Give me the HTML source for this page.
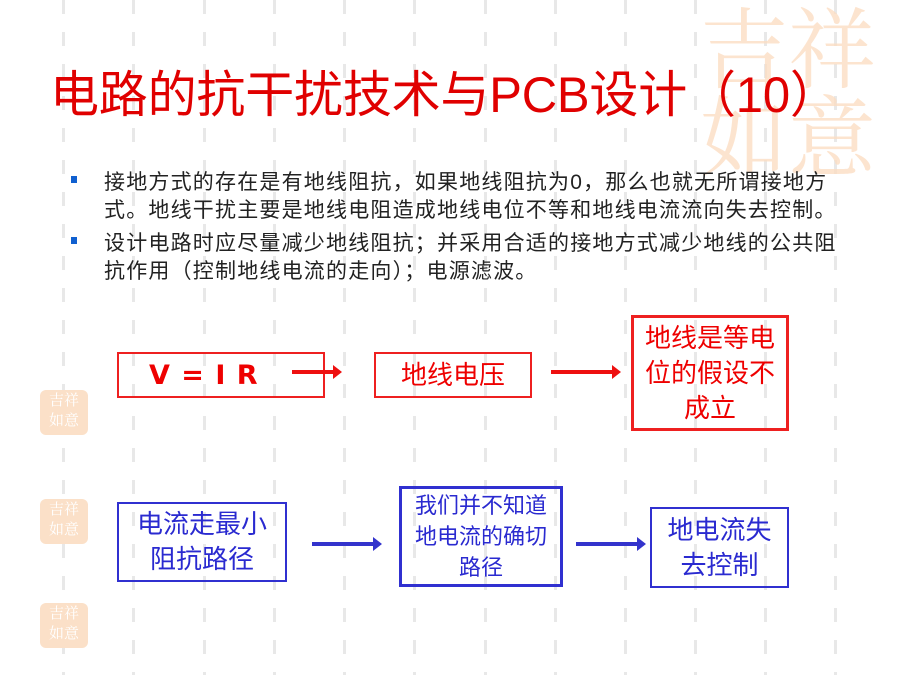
<!DOCTYPE html>
<html><head><meta charset="utf-8"><style>
body{margin:0;width:900px;height:675px;overflow:hidden;background:#fff;position:relative;font-family:"Liberation Sans","Noto Sans CJK SC",sans-serif;}
.vl{position:absolute;top:0;width:3px;height:675px;background:repeating-linear-gradient(to bottom,#e8e8e8 0 14px,transparent 14px 32px);}
.seal{position:absolute;left:40px;width:48px;height:45px;background:#fbe0c8;border-radius:6px;color:#fff;font-size:15px;line-height:20px;text-align:center;font-family:"Noto Serif CJK SC",serif;}
.title{position:absolute;left:50px;top:55px;font-size:50px;color:#e00000;white-space:nowrap;letter-spacing:-0.2px;transform:scaleX(0.98);transform-origin:left;}
.txt{position:absolute;left:104px;font-size:21px;letter-spacing:1.2px;color:#222;white-space:nowrap;}
.bul{position:absolute;left:71px;width:6px;height:7px;background:#1060d0;}
.box{position:absolute;box-sizing:border-box;display:flex;align-items:center;justify-content:center;text-align:center;font-size:26px;line-height:35px;}
.r{border:2px solid #ee2020;color:#ee0000;}
.b{border:2px solid #3030d0;color:#2a2ad0;}
.arr{position:absolute;height:4px;}
.arr:after{content:"";position:absolute;right:-8px;top:-5px;border-left:9px solid;border-left-color:inherit;border-top:7px solid transparent;border-bottom:7px solid transparent;}
</style></head><body>
<div class="vl" style="left:62px"></div><div class="vl" style="left:132px"></div><div class="vl" style="left:203px"></div><div class="vl" style="left:273px"></div><div class="vl" style="left:343px"></div><div class="vl" style="left:413px"></div><div class="vl" style="left:484px"></div><div class="vl" style="left:554px"></div><div class="vl" style="left:624px"></div><div class="vl" style="left:694px"></div><div class="vl" style="left:764px"></div><div class="vl" style="left:834px"></div>
<div style="position:absolute;left:700px;top:0;width:200px;height:175px;color:#fcdcc0;font-family:'Noto Serif CJK SC',serif;font-size:88px;line-height:88px;opacity:.75">吉祥<br>如意</div>
<div class="seal" style="top:390px">吉祥<br>如意</div>
<div class="seal" style="top:499px">吉祥<br>如意</div>
<div class="seal" style="top:603px">吉祥<br>如意</div>
<div class="title">电路的抗干扰技术与PCB设计（10）</div>
<div class="bul" style="top:176px"></div><div class="bul" style="top:237px"></div>
<div class="txt" style="top:166px">接地方式的存在是有地线阻抗，如果地线阻抗为0，那么也就无所谓接地方</div>
<div class="txt" style="top:194px">式。地线干扰主要是地线电阻造成地线电位不等和地线电流流向失去控制。</div>
<div class="txt" style="top:227px">设计电路时应尽量减少地线阻抗；并采用合适的接地方式减少地线的公共阻</div>
<div class="txt" style="top:255px">抗作用（控制地线电流的走向）；电源滤波。</div>
<div class="box r" style="left:117px;top:352px;width:208px;height:46px;font-size:27px;font-weight:bold;letter-spacing:1px;font-family:'DejaVu Sans',sans-serif;justify-content:flex-start;padding-left:30px">V = I R</div>
<div class="box r" style="left:374px;top:352px;width:158px;height:46px">地线电压</div>
<div class="box r" style="left:631px;top:315px;width:158px;height:116px;border-width:3px">地线是等电<br>位的假设不<br>成立</div>
<div class="arr" style="left:292px;top:370px;width:42px;background:#ee1010;border-color:#ee1010"></div>
<div class="arr" style="left:551px;top:370px;width:62px;background:#ee1010;border-color:#ee1010"></div>
<div class="box b" style="left:117px;top:502px;width:170px;height:80px">电流走最小<br>阻抗路径</div>
<div class="box b" style="left:399px;top:486px;width:164px;height:101px;font-size:22px;line-height:31px;border-width:3px">我们并不知道<br>地电流的确切<br>路径</div>
<div class="box b" style="left:650px;top:507px;width:139px;height:81px">地电流失<br>去控制</div>
<div class="arr" style="left:312px;top:542px;width:62px;background:#3333cc;border-color:#3333cc"></div>
<div class="arr" style="left:576px;top:542px;width:62px;background:#3333cc;border-color:#3333cc"></div>
</body></html>
